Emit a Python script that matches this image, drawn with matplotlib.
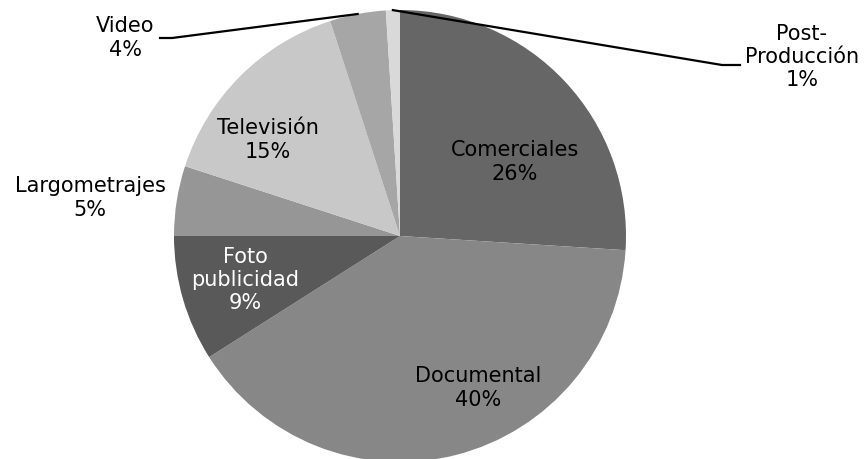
import numpy as np
import matplotlib.pyplot as plt

# datos del gráfico
categorias = ['Comerciales', 'Documental', 'Foto\npublicidad', 'Largometrajes',
              'Televisión', 'Video', 'Post-\nProducción']
valores = [26, 40, 9, 5, 15, 4, 1]
colores = ['#666666', '#878787', '#595959', '#969696', '#c8c8c8', '#a6a6a6', '#d9d9d9']
color_texto = ['black', 'black', 'white', 'black', 'black', 'black', 'black']

W, H = 866, 459
fig = plt.figure(figsize=(W / 100, H / 100), dpi=100)
ax = fig.add_axes([0, 0, 1, 1])

cx, cy, r = 400, H - 236, 226
wedges, _ = ax.pie(valores, colors=colores, startangle=90, counterclock=False,
                   center=(cx, cy), radius=r, frame=True,
                   wedgeprops=dict(linewidth=0))
ax.set_xlim(0, W)
ax.set_ylim(0, H)
ax.set_aspect('equal')
ax.axis('off')

# posiciones de las etiquetas (px desde arriba)
pos_etiquetas = [(515, 162), (478, 388), (245, 280), (90, 198),
                 (268, 140), (125, 38), (802, 57)]

fs = 15
for i, (nombre, v) in enumerate(zip(categorias, valores)):
    x, y = pos_etiquetas[i]
    ax.text(x, H - y, f'{nombre}\n{v}%', ha='center', va='center',
            fontsize=fs, color=color_texto[i], linespacing=1.2)

# líneas guía
w = wedges[5]
ang = np.deg2rad((w.theta1 + w.theta2) / 2)
px, py = cx + r * np.cos(ang), cy + r * np.sin(ang)
ax.plot([160, 172, px], [H - 38, H - 38, py], color='black', lw=1.6)

w = wedges[6]
ang = np.deg2rad((w.theta1 + w.theta2) / 2)
px, py = cx + r * np.cos(ang), cy + r * np.sin(ang)
ax.plot([px, 722, 740], [py, H - 65, H - 65], color='black', lw=1.6)

fig.savefig('out.png', dpi=100)
